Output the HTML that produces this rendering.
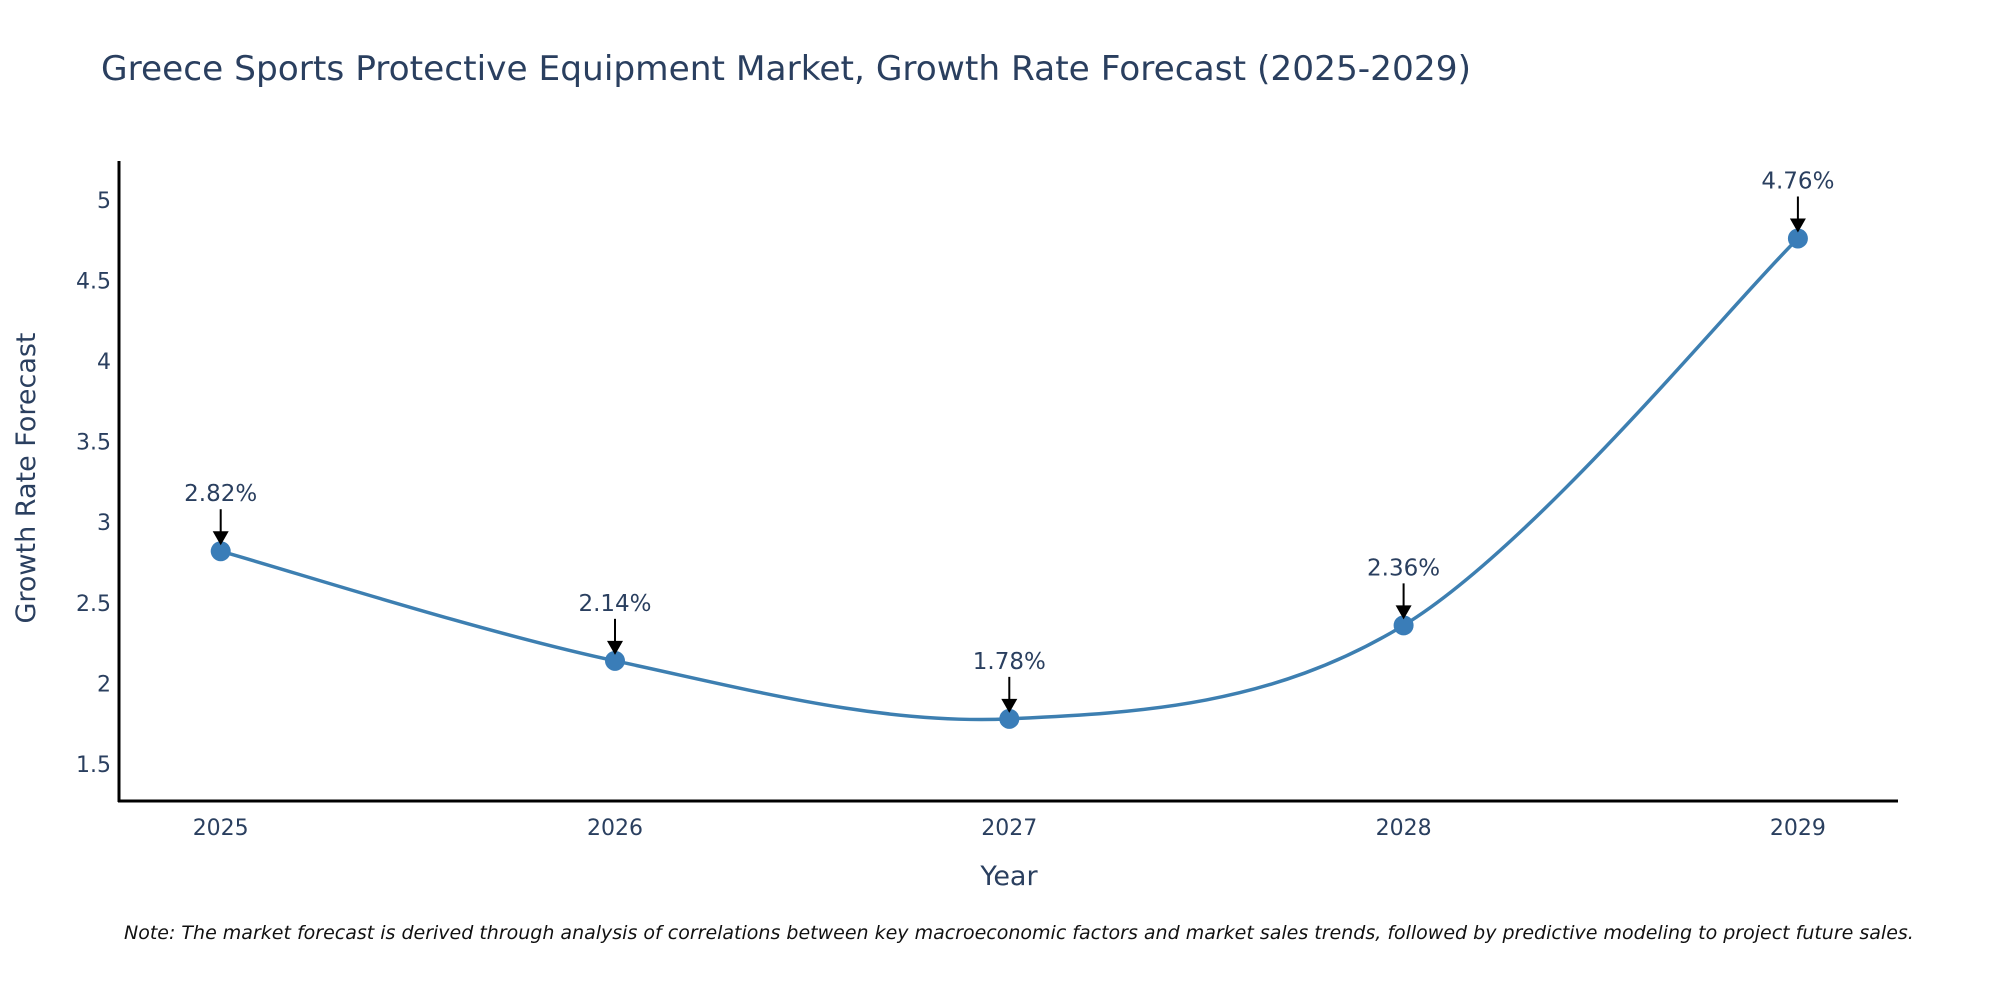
<!DOCTYPE html>
<html><head><meta charset="utf-8"><style>
html,body{margin:0;padding:0;background:#fff;}
svg{display:block;font-family:"DejaVu Sans","Liberation Sans",sans-serif;}
</style></head><body>
<svg id="chart" width="2000" height="1000" viewBox="0 0 2000 1000" xmlns="http://www.w3.org/2000/svg">
<rect width="2000" height="1000" fill="#fff"/>
<text x="101" y="80" font-size="34" fill="#2a3f5f" textLength="1370" lengthAdjust="spacingAndGlyphs">Greece Sports Protective Equipment Market, Growth Rate Forecast (2025-2029)</text>
<g id="yticks"></g>
<g id="xticks"></g>
<line x1="119" y1="161" x2="119" y2="802" stroke="#000" stroke-width="3"/>
<line x1="118" y1="801" x2="1898" y2="801" stroke="#000" stroke-width="3"/>
<text transform="translate(35,478) rotate(-90)" text-anchor="middle" font-size="27" fill="#2a3f5f">Growth Rate Forecast</text>
<text x="1009" y="885" text-anchor="middle" font-size="27" fill="#2a3f5f">Year</text>
<g id="series"></g>
<g id="annots"></g>
<text x="124" y="939" font-size="19" font-style="italic" fill="#111">Note: The market forecast is derived through analysis of correlations between key macroeconomic factors and market sales trends, followed by predictive modeling to project future sales.</text>
</svg>
<script>
const years = ["2025","2026","2027","2028","2029"];
const growth = [2.82, 2.14, 1.78, 2.36, 4.76];
const yTickValues = [1.5, 2, 2.5, 3, 3.5, 4, 4.5, 5];
const yTickLabels = ["1.5","2","2.5","3","3.5","4","4.5","5"];

const NS = "http://www.w3.org/2000/svg";
function xPos(i){ return 220.7 + i * 394.3; }
function yPos(v){ return 764 - (v - 1.5) * 161.2; }
function mk(tag, attrs, parent){ const e=document.createElementNS(NS,tag); for(const k in attrs) e.setAttribute(k, attrs[k]); parent.appendChild(e); return e; }

const yt = document.getElementById('yticks');
yTickValues.forEach((v,i)=>{
  const t = mk('text',{x:111,y:yPos(v)+8,'text-anchor':'end','font-size':22,fill:'#2a3f5f'},yt);
  
  
  t.textContent = yTickLabels[i];
});
const xt = document.getElementById('xticks');
years.forEach((y,i)=>{
  const t = mk('text',{x:xPos(i),y:835,'text-anchor':'middle','font-size':22,fill:'#2a3f5f'},xt);
  
  
  t.textContent = y;
});

const pts = growth.map((v,i)=>[xPos(i), yPos(v)]);
let d = `M${pts[0][0]},${pts[0][1]}`;
const s = 1/6;
for(let i=0;i<pts.length-1;i++){
  const p0=pts[Math.max(0,i-1)], p1=pts[i], p2=pts[i+1], p3=pts[Math.min(pts.length-1,i+2)];
  const c1=[p1[0]+(p2[0]-p0[0])*s, p1[1]+(p2[1]-p0[1])*s];
  const c2=[p2[0]-(p3[0]-p1[0])*s, p2[1]-(p3[1]-p1[1])*s];
  d += ` C${c1[0]},${c1[1]} ${c2[0]},${c2[1]} ${p2[0]},${p2[1]}`;
}
const ser = document.getElementById('series');
const line = mk('path',{d:d,fill:'none',stroke:'#3d7fb1','stroke-width':3.5},ser);


pts.forEach(p=>{
  const c = mk('circle',{cx:p[0],cy:p[1],r:10,fill:'#3a7db8'},ser);
  
  
});

const an = document.getElementById('annots');
pts.forEach((p,i)=>{
  const l = mk('line',{x1:p[0],y1:p[1]-42,x2:p[0],y2:p[1]-18,stroke:'#000','stroke-width':2},an);
  
  
  const h = mk('polygon',{points:`${p[0]-8},${p[1]-20} ${p[0]+8},${p[1]-20} ${p[0]},${p[1]-6}`,fill:'#000'},an);
  
  
  const t = mk('text',{x:p[0],y:p[1]-50,'text-anchor':'middle','font-size':23,fill:'#2a3f5f'},an);
  
  
  t.textContent = growth[i].toFixed(2)+'%';
});
</script>
</body></html>
